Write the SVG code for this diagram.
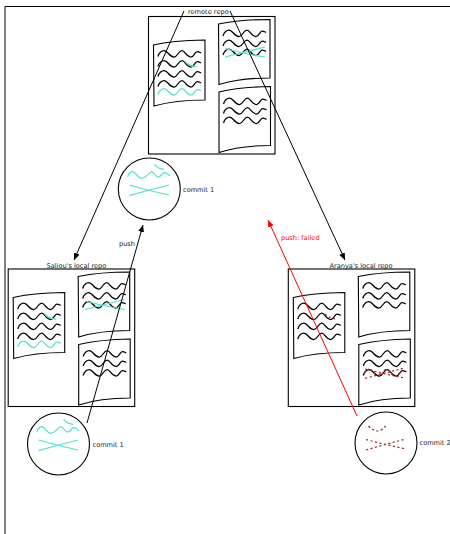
<svg xmlns="http://www.w3.org/2000/svg" xmlns:xlink="http://www.w3.org/1999/xlink" width="450" height="534" viewBox="0 0 450 534">
<style>
text{font-family:"DejaVu Sans",sans-serif;font-size:6.6px;fill:#222;opacity:.99}
.box{fill:#fff;stroke:#000;stroke-width:1.1}
.page{fill:#fff;stroke:#000;stroke-width:1.1}
.w{fill:none;stroke:#000;stroke-width:1.25}
.t{fill:none;stroke:#55e0d2;stroke-width:1.25}
.r{fill:none;stroke:#a02c2c;stroke-width:1.2;stroke-dasharray:2.2 2.4}
.c{fill:#fff;stroke:#000;stroke-width:1.1}
.l{fill:none;stroke:#000;stroke-width:1}
</style>
<defs>
<marker id="ah" markerUnits="userSpaceOnUse" markerWidth="8" markerHeight="8" refX="7" refY="3" orient="auto"><path d="M0,0L7,3L0,6Z" fill="#000"/></marker>
<marker id="ar" markerUnits="userSpaceOnUse" markerWidth="8" markerHeight="8" refX="7" refY="3" orient="auto"><path d="M0,0L7,3L0,6Z" fill="#f00"/></marker>
<path id="wave" class="w" d="M0,6C1,2 4,0 6,0C10,0 11,6.5 16,6.5C20,6.5 20,0 24,0C27,0 28,6.5 33,6.5C36,6.5 37,1 39,1C41,1 42,2 43,2.5"/>
<path id="wavet" class="t" d="M0,6C1,2 4,0 6,0C10,0 11,6.5 16,6.5C20,6.5 20,0 24,0C27,0 28,6.5 33,6.5C36,6.5 37,1 39,1C41,1 42,2 43,2.5"/>
<g id="repo">
<rect class="box" x="148.5" y="16.5" width="126.5" height="137.5"/>
<path class="page" d="M153.5,45Q172,40.5 205,40L205,100Q175,100 154,106Z"/>
<path class="page" d="M218.5,24Q240,19.5 270,19.5L270,78Q240,78 219,84.5Z"/>
<path class="page" d="M219,92Q240,87 270.5,86.5L270.5,145.5Q240,145.5 219,152.5Z"/>
<use href="#wave" x="158" y="50.5"/><use href="#wave" x="158" y="60.5"/><use href="#wave" x="158" y="70.5"/><use href="#wave" x="158" y="80.5"/>
<use href="#wave" x="223" y="30"/><use href="#wave" x="223" y="40"/><use href="#wave" x="223" y="49"/>
<use href="#wave" x="223.5" y="98"/><use href="#wave" x="223.5" y="107.5"/><use href="#wave" x="223.5" y="117"/>
</g>
<g id="teal">
<use href="#wavet" x="158" y="88.5"/>
<path class="t" d="M185,61.5Q189,66.5 196.5,66.5"/>
<path class="t" d="M225,48.5Q245,54 265,57M225,57Q245,52 265,47"/>
</g>
<g id="commitart">
<path class="t" d="M-21.7,-12.3C-20,-16 -18.5,-17.3 -17,-17.3C-13,-17.3 -12,-10.7 -7.7,-10.7C-3,-10.7 0,-17.3 2.3,-17.3C5,-17.3 6,-12 9,-12C12,-12 13,-16.3 15.7,-16.3C18,-16.3 19,-14 20.7,-13"/>
<path class="t" d="M5,-24.7Q9,-20 14.7,-19.7"/>
<path class="t" d="M-20,-4Q0,2 19.7,6M-20,6.7Q0,1 19.7,-4"/>
</g>
</defs>
<path class="l" d="M5,534V6.5H450"/>
<g id="remote-repo"><use href="#repo"/><use href="#teal"/><text x="188" y="13.5">remote repo</text></g>
<g id="saliou-repo"><use href="#repo" x="-140.3" y="252.5"/><use href="#teal" x="-140.3" y="252.5"/><text x="46.5" y="267.5">Saliou's local repo</text></g>
<g id="aranya-repo"><use href="#repo" x="139.8" y="252.5"/>
<path class="r" d="M325,314Q329,318 336,319" stroke-dasharray="none"/>
<path class="r" d="M364,374C366,370 368,369 369,369C373,369 374,376 379,376C383,376 383,369 387,369C390,369 391,376 396,376C399,376 400,370 402,370"/>
<path class="r" d="M365,369Q385,374 403.3,377.7M365,378.3Q385,373 403.3,368.3"/>
<text x="329.5" y="267.5">Aranya's local repo</text></g>
<g id="commit-top"><circle class="c" cx="149.3" cy="189" r="31"/><use href="#commitart" x="149.3" y="189"/><text x="183" y="191.5">commit 1</text></g>
<g id="commit-saliou"><circle class="c" cx="58.5" cy="444" r="31"/><use href="#commitart" x="58.5" y="444"/><text x="92.5" y="447">commit 1</text></g>
<g id="commit-aranya"><circle class="c" cx="386" cy="443" r="31"/>
<path class="r" d="M368.5,426Q373,431 378,431Q383,430 387,424"/>
<path class="r" d="M366,439.5Q386,445 406,449M366,450Q386,444 406,439"/>
<text x="419.5" y="445">commit 2</text></g>
<g id="connectors">
<path class="l" d="M184,11L74,260" marker-end="url(#ah)"/>
<path class="l" d="M230,11L345,260" marker-end="url(#ah)"/>
<path class="l" d="M87,423L143,225" marker-end="url(#ah)"/>
<path d="M357,416L268,220" fill="none" stroke="#f00" stroke-width="1" marker-end="url(#ar)"/>
<text x="119" y="245.5">push</text>
<text x="281" y="239.5" style="fill:#f00">push: failed</text>
</g>
</svg>
